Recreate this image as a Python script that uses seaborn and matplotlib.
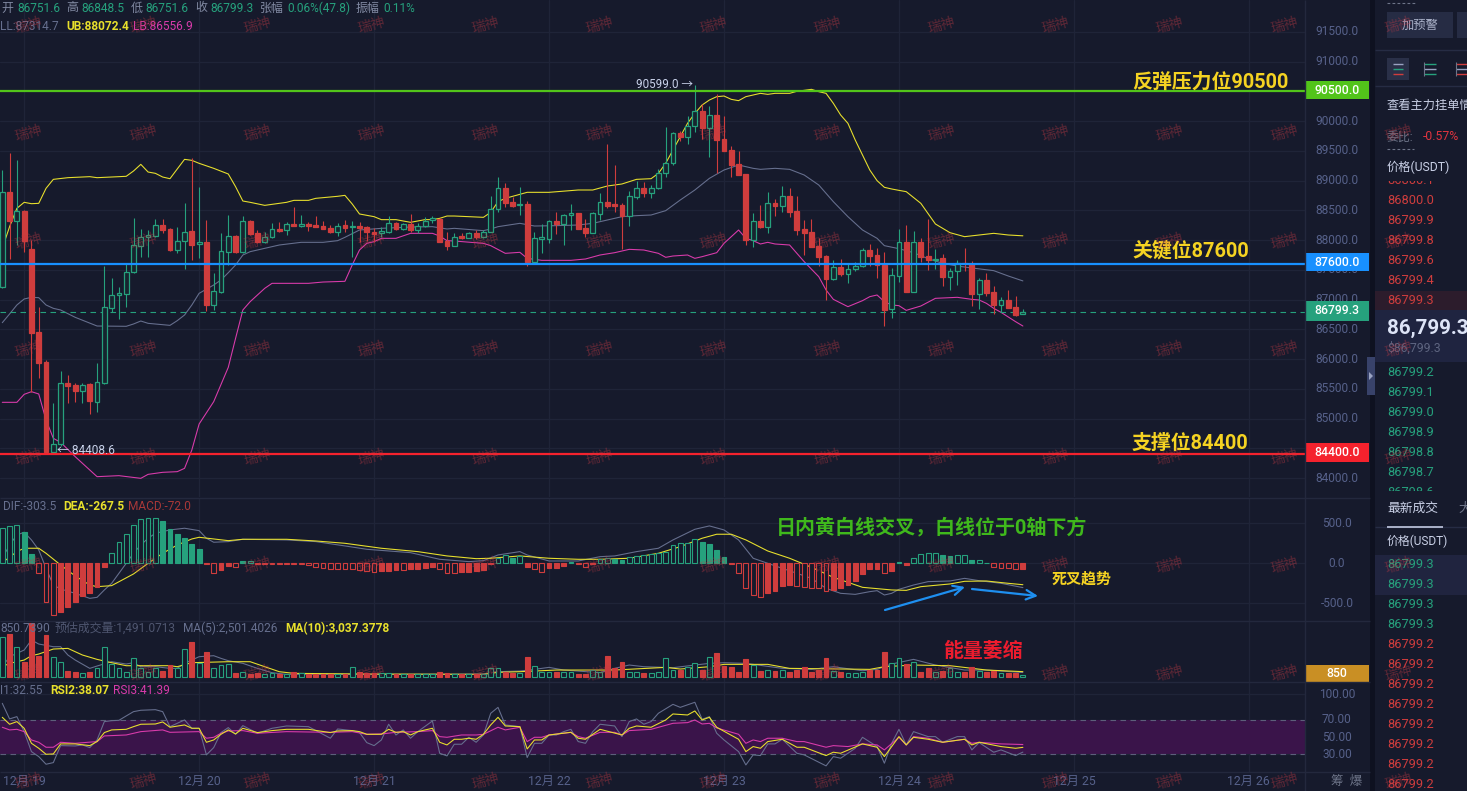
#!/usr/bin/env python3
"""BTC/USDT 1h candle chart with Bollinger, MACD, volume and RSI panes."""

import matplotlib
matplotlib.use("Agg")
import matplotlib.pyplot as plt
import numpy as np
import seaborn as sns
from matplotlib.patches import Rectangle, Polygon
from matplotlib.transforms import ScaledTranslation

# ---------------------------------------------------------------- candles
OPENS = [
    87217, 88808, 88326, 88489, 87846, 86456, 85952, 84445, 84570, 85595,
    85566, 85465, 85578, 85286, 85605, 86865, 87073, 87100, 87459, 87906,
    88057, 88074, 88254, 88187, 87834, 87980, 88153, 87930, 87973, 86910,
    87133, 87805, 88074, 87805, 88321, 88115, 87973, 88047, 88187, 88165,
    88266, 88242, 88266, 88254, 88232, 88204, 88141, 88254, 88215, 88237,
    88215, 88141, 88115, 88141, 88283, 88182, 88271, 88170, 88237, 88338,
    88360, 87985, 87906, 88069, 88041, 88115, 88057, 88141, 88518, 88870,
    88640, 88585, 88602, 87637, 88024, 88024, 88321, 88271, 88417, 88451,
    88204, 88125, 88444, 88635, 88607, 88585, 88405, 88729, 88870, 88797,
    88870, 89133, 89301, 89795, 89737, 89917, 90174, 89889, 90097, 89694,
    89514, 89279, 89106, 87994, 88321, 88225, 88624, 88578, 88736, 88489,
    88187, 88136, 87901, 87733, 87347, 87543, 87436, 87510, 87570, 87829,
    87750, 87582, 86838, 87402, 87968, 87133, 87968, 87733, 87666, 87695,
    87385, 87476, 87621, 87594, 87100, 87330, 87128, 86915, 86994, 86876,
    86751.6,
]
HIGHS = [
    89178, 89464, 89346, 88506, 87998, 86876, 85993, 85264, 85806, 85734,
    85605, 85600, 85595, 85936, 87565, 87369, 87212, 87616, 88372, 88187,
    88170, 88355, 88355, 88204, 88225, 88619, 89380, 88897, 88338, 87453,
    88120, 88422, 88086, 88405, 88338, 88170, 88141, 88293, 88310, 88310,
    88561, 88422, 88310, 88405, 88321, 88254, 88283, 88338, 88326, 88310,
    88237, 88199, 88225, 88405, 88310, 88293, 88439, 88293, 88393, 88410,
    88366, 88131, 88125, 88125, 88141, 88170, 88170, 88741, 89055, 88955,
    88719, 88897, 88662, 88131, 88266, 88338, 88467, 88434, 88607, 88461,
    88350, 88467, 88797, 89615, 89262, 88629, 88830, 88993, 88981, 88926,
    89190, 89895, 89821, 89833, 90085, 90599, 90287, 90253, 90455, 90090,
    89581, 89497, 89111, 88451, 88590, 88813, 88686, 88914, 88870, 88741,
    88338, 88350, 88031, 87750, 87666, 87678, 87599, 87637, 87863, 87935,
    87863, 87805, 87526, 88182, 88254, 88158, 88031, 88355, 87846, 87767,
    87526, 87666, 87863, 87649, 87359, 87443, 87234, 87039, 87162, 87061,
    86848.5,
]
LOWS = [
    87196, 87683, 87918, 87800, 85453, 85684, 84432, 84408.6, 84546, 85264,
    85280, 85269, 85079, 85108, 85583, 86798, 86675, 86881, 87448, 87711,
    87721, 88057, 88115, 87822, 87779, 87515, 87666, 87700, 86809, 86826,
    87112, 87582, 87792, 87792, 88091, 87946, 87946, 88030, 88141, 88086,
    88237, 88225, 88158, 88225, 88187, 88115, 88074, 88141, 87711, 87973,
    87990, 87973, 88057, 88115, 88170, 88170, 88141, 88115, 88225, 88283,
    87973, 87834, 87901, 88014, 88030, 88014, 88036, 88131, 88477, 88551,
    88551, 88422, 87565, 87594, 87779, 87946, 88103, 87918, 88170, 88192,
    88057, 88115, 88338, 88535, 88467, 87851, 88242, 88686, 88729, 88703,
    88859, 89065, 89262, 89670, 89615, 89821, 89694, 89401, 89122, 89497,
    89065, 89094, 87918, 87890, 88199, 88115, 88405, 88477, 88393, 88086,
    87750, 87885, 87565, 86994, 87330, 87402, 87275, 87486, 87543, 87565,
    87358, 86557, 86686, 87301, 87133, 87133, 87637, 87498, 87515, 87229,
    87162, 87246, 87486, 86893, 86838, 87061, 86754, 86787, 86855, 86730,
    86751.6,
]
CLOSES = [
    88803, 88326, 88489, 87990, 86445, 85941, 84445, 84570, 85595, 85554,
    85465, 85571, 85297, 85611, 86871, 87073, 87107, 87459, 87918, 88057,
    88081, 88249, 88170, 87834, 87980, 88141, 87918, 87963, 86910, 87145,
    87822, 88064, 87795, 88321, 88103, 87973, 88052, 88182, 88158, 88266,
    88242, 88271, 88242, 88225, 88192, 88141, 88242, 88209, 88232, 88209,
    88141, 88103, 88153, 88283, 88182, 88266, 88170, 88237, 88326, 88366,
    87973, 87901, 88047, 88041, 88115, 88057, 88141, 88518, 88870, 88629,
    88578, 88607, 87637, 88030, 88047, 88316, 88271, 88417, 88451, 88192,
    88125, 88451, 88635, 88578, 88578, 88405, 88736, 88870, 88797, 88870,
    89133, 89301, 89795, 89737, 89912, 90174, 89889, 90097, 89687, 89502,
    89267, 89094, 87994, 88316, 88215, 88618, 88573, 88736, 88477, 88175,
    88125, 87890, 87721, 87347, 87543, 87431, 87510, 87570, 87829, 87738,
    87582, 86826, 87409, 87963, 87133, 87968, 87716, 87666, 87688, 87385,
    87476, 87610, 87610, 87095, 87325, 87112, 86910, 86989, 86855, 86742,
    86799.3,
]

# ---------------------------------------------------------------- Bollinger
UB_IDX = [0, 1, 2, 3, 4, 5, 6, 7, 9, 12, 13, 16, 17, 18, 19, 20, 21, 22, 23, 24, 25, 26, 27, 29, 31, 32, 33, 34, 36,
          39, 40, 42, 43, 46, 47, 48, 49, 51, 52, 54, 56, 58, 59, 60, 61, 62, 66, 67, 68, 69, 72, 75, 79, 81, 83,
          85, 87, 89, 90, 91, 92, 93, 94, 95, 96, 97, 98, 99, 100, 101, 102, 104, 105, 106, 108, 109, 111, 112,
          113, 114, 115, 116, 117, 118, 119, 120, 121, 122, 123, 124, 126, 128, 130, 132, 134, 136, 138, 140]
UB_VAL = [87862, 88226, 88534, 88635, 88612, 88618, 88870, 89021, 89049, 89066, 89049, 89066, 89072, 89161, 89273,
          89144, 89122, 89060, 89032, 89195, 89357, 89340, 89290, 89206, 89111, 88898, 88657, 88635, 88584, 88635,
          88668, 88668, 88702, 88736, 88752, 88607, 88439, 88394, 88344, 88344, 88299, 88344, 88344, 88366, 88405,
          88405, 88383, 88467, 88646, 88702, 88803, 88803, 88842, 88842, 88909, 88943, 89021, 89032, 89122, 89290,
          89514, 89738, 89962, 90130, 90270, 90354, 90410, 90421, 90365, 90343, 90410, 90466, 90449, 90466, 90466,
          90500, 90533, 90494, 90466, 90298, 90102, 89962, 89682, 89430, 89178, 88999, 88887, 88859, 88836, 88814,
          88618, 88271, 88125, 88058, 88086, 88114, 88086, 88072.4]
MID_IDX = [0, 1, 2, 3, 4, 5, 6, 7, 8, 10, 13, 17, 18, 19, 20, 23, 24, 25, 26, 27, 29, 30, 31, 32, 33, 34, 35, 36, 38,
           41, 44, 46, 47, 49, 52, 56, 59, 61, 62, 66, 67, 68, 71, 73, 76, 79, 81, 83, 85, 87, 89, 91, 93, 95, 97,
           99, 101, 103, 104, 106, 108, 110, 112, 114, 116, 118, 120, 121, 123, 125, 127, 129, 131, 133, 136, 138, 140]
MID_VAL = [86613, 86759, 86910, 87011, 87039, 87033, 86910, 86854, 86826, 86703, 86557, 86552, 86591, 86641, 86602,
           86568, 86647, 86742, 86910, 87106, 87246, 87330, 87453, 87582, 87750, 87806, 87834, 87862, 87918, 87963,
           87963, 87991, 88047, 88170, 88198, 88220, 88226, 88187, 88198, 88159, 88187, 88226, 88282, 88237, 88243,
           88254, 88282, 88338, 88394, 88411, 88422, 88495, 88674, 88842, 89038, 89178, 89262, 89206, 89189, 89206,
           89189, 89094, 88926, 88646, 88394, 88170, 88030, 87907, 87856, 87789, 87688, 87610, 87565, 87532, 87487,
           87397, 87314.7]
LB_IDX = [0, 2, 3, 4, 5, 6, 7, 8, 10, 13, 16, 19, 20, 22, 24, 25, 26, 27, 29, 31, 32, 33, 34, 36, 37, 42, 44, 47, 48,
          49, 50, 51, 52, 54, 56, 59, 60, 61, 62, 66, 67, 69, 71, 72, 74, 78, 80, 82, 84, 86, 88, 90, 91, 92, 94,
          95, 96, 98, 99, 101, 102, 103, 104, 105, 106, 108, 110, 112, 113, 114, 116, 118, 119, 120, 121, 122,
          123, 124, 126, 128, 131, 133, 134, 135, 136, 137, 139, 140]
LB_VAL = [85275, 85275, 85409, 85454, 85415, 84978, 84670, 84603, 84362, 84026, 84043, 83998, 84065, 84099, 84110,
          84166, 84474, 84911, 85286, 85863, 86350, 86826, 86966, 87190, 87274, 87274, 87296, 87308, 87582, 87834,
          87946, 87974, 88030, 88030, 88114, 88114, 88069, 87991, 87985, 87946, 87907, 87778, 87795, 87694, 87660,
          87660, 87683, 87750, 87789, 87845, 87834, 87778, 87711, 87733, 87750, 87694, 87722, 87789, 87946, 88170,
          88030, 87991, 87935, 87963, 87935, 87918, 87638, 87386, 87162, 87005, 86882, 86983, 87050, 87078, 86966,
          86910, 86899, 86820, 86893, 87022, 87039, 87005, 86994, 86938, 86854, 86787, 86630, 86556.9]

# ---------------------------------------------------------------- MACD
MACD_HIST = [
    438, 467, 479, 388, 117, -125, -479, -650, -604, -542,
    -479, -408, -367, -292, -50, 133, 263, 363, 479, 550,
    563, 563, 529, 429, 367, 321, 242, 179, -8, -117,
    -83, -33, -46, 25, 25, -10, -10, -10, -10, -10,
    -10, -10, -17, -50, -54, -67, -71, -75, -75, -83,
    -96, -104, -100, -96, -83, -83, -75, -71, -58, -50,
    -75, -117, -117, -108, -104, -92, -83, -10, 63, 104,
    63, 85, -50, -75, -104, -63, -54, -33, 13, -8,
    -42, -8, 54, 63, 50, 42, 75, 92, 100, 113,
    125, 146, 229, 250, 258, 300, 271, 242, 167, 79,
    -8, -117, -313, -396, -425, -375, -342, -283, -271, -283,
    -292, -304, -313, -346, -333, -313, -271, -217, -138, -75,
    -71, -125, -96, 21, -17, 71, 117, 125, 125, 104,
    92, 100, 100, 38, 38, 8, -42, -54, -63, -75,
    -72,
]
DIF_IDX = [0, 1, 2, 3, 4, 5, 6, 7, 8, 10, 12, 13, 14, 15, 16, 18, 19, 20, 21, 23, 25, 27, 28, 29, 31, 33, 39, 43, 47,
           50, 56, 60, 64, 66, 68, 71, 72, 75, 79, 82, 84, 87, 90, 92, 95, 97, 99, 101, 103, 105, 107, 109, 111,
           113, 115, 117, 119, 120, 121, 122, 123, 125, 127, 130, 132, 134, 137, 140]
DIF_VAL = [63, 229, 354, 388, 292, 167, -63, -271, -321, -375, -438, -425, -333, -250, -125, 125, 229, 313, 375, 417,
           438, 408, 313, 263, 271, 300, 292, 271, 217, 175, 133, 50, 21, 33, 104, 146, 104, 29, 29, 83, 92, 146,
           188, 292, 425, 467, 417, 292, 63, 0, -63, -125, -188, -313, -375, -388, -354, -342, -396, -375, -325,
           -271, -229, -221, -188, -217, -250, -303.5]
DEA_IDX = [0, 2, 3, 5, 6, 8, 10, 12, 13, 15, 18, 20, 22, 24, 26, 27, 29, 31, 33, 39, 43, 47, 52, 57, 61, 65, 67, 71,
           75, 79, 82, 86, 90, 93, 96, 98, 100, 102, 105, 108, 111, 114, 118, 122, 124, 126, 130, 132, 135, 138, 140]
DEA_VAL = [8, 146, 188, 188, 125, -21, -158, -271, -292, -279, -133, 0, 125, 229, 304, 325, 304, 283, 300, 300, 279,
           250, 188, 146, 92, 58, 63, 92, 63, 50, 50, 63, 125, 208, 313, 363, 363, 292, 154, 63, -50, -175, -300,
           -333, -338, -292, -258, -225, -221, -250, -267.5]

# ---------------------------------------------------------------- volume
VOLUME = [
    24000, 25600, 17600, 9000, 32000, 12600, 25000, 11600, 9000, 3400,
    2800, 2000, 3000, 5400, 18000, 7600, 5000, 3000, 11000, 5000,
    3000, 5000, 3400, 7000, 5000, 16400, 20600, 8000, 14600, 5000,
    7000, 7600, 2200, 2800, 1800, 2400, 1600, 2400, 1400, 1400,
    3000, 2000, 1400, 1400, 1400, 1400, 1400, 1400, 6000, 2600,
    2000, 2000, 2400, 2000, 1800, 1400, 1400, 1400, 1400, 1400,
    2600, 2200, 1400, 1400, 1400, 1400, 1600, 5000, 5400, 2600,
    2200, 2000, 12000, 6400, 3000, 3000, 3000, 3000, 3000, 1400,
    1600, 4000, 3000, 12400, 5400, 8600, 3000, 3000, 2000, 2000,
    2600, 11000, 4000, 4000, 6000, 8400, 4000, 12000, 14000, 6400,
    5600, 3000, 10400, 7000, 3400, 4000, 3400, 4000, 3000, 4000,
    5600, 3000, 4000, 11000, 3400, 3000, 2000, 2000, 3000, 4000,
    4000, 14600, 8400, 11000, 7600, 8600, 3000, 5400, 2600, 3400,
    5000, 3000, 3000, 5600, 3400, 2600, 3400, 2400, 2000, 2400,
    850,
]
MA5_IDX = [0, 1, 3, 4, 5, 7, 8, 9, 10, 12, 13, 15, 17, 18, 19, 21, 23, 24, 25, 27, 29, 30, 31, 33, 35, 37, 39, 50, 66,
           68, 71, 73, 75, 77, 82, 84, 86, 88, 92, 95, 97, 99, 102, 107, 111, 114, 118, 120, 122, 125, 128, 132,
           135, 140]
MA5_VAL = [6000, 12000, 16000, 22000, 19600, 18000, 18000, 13000, 10000, 5000, 6400, 9000, 7600, 8400, 6000, 6000,
           5000, 5000, 8000, 12000, 12600, 11000, 9600, 8000, 5000, 2400, 1400, 1400, 1600, 3000, 3400, 4400, 5600,
           4000, 2400, 5000, 7000, 6000, 5400, 7000, 8000, 8400, 8000, 5000, 4400, 6000, 3600, 4400, 7600, 10400,
           7000, 4000, 4000, 2501.4]
MA10_IDX = [0, 1, 3, 4, 5, 7, 9, 11, 13, 15, 17, 21, 23, 24, 26, 31, 34, 36, 38, 40, 50, 66, 68, 71, 76, 84, 91, 93,
            97, 99, 105, 108, 119, 121, 125, 130, 135, 140]
MA10_VAL = [6000, 8000, 10000, 12600, 13600, 16600, 17000, 13000, 10400, 8400, 6600, 6600, 6600, 6000, 8400, 9000,
            9000, 6000, 3000, 2000, 1600, 1400, 2600, 3000, 4000, 4000, 5600, 4600, 6000, 7400, 7400, 5000, 4400,
            6000, 7000, 6600, 4000, 3037.4]

# ---------------------------------------------------------------- RSI
RSI1_IDX = [0, 1, 2, 3, 4, 5, 6, 7, 8, 10, 11, 12, 13, 14, 15, 16, 17, 18, 19, 21, 22, 23, 25, 26, 27, 28, 29, 30, 31,
            32, 33, 35, 37, 39, 42, 45, 46, 48, 49, 50, 51, 52, 53, 54, 55, 56, 57, 59, 60, 61, 62, 63, 64, 65, 66,
            67, 68, 69,
            71, 72, 73, 74, 75, 76, 77, 78, 79, 80, 81, 82, 84, 85, 86, 87, 88, 89, 90, 92, 93, 95, 96, 97, 98, 99,
            101, 102, 103, 104, 105, 106, 107, 109, 110, 113, 114, 115, 117, 118, 120, 121, 122, 123, 124, 125,
            127, 128, 129, 131, 132, 133, 134, 136, 137, 139, 140]
RSI1_VAL = [89.4, 71.2, 73.9, 56.4, 33.1, 27.3, 18.4, 20.3, 40.1, 39.7, 40.9, 37.8, 46.7, 68.1, 69.2, 69.6, 74.7,
            79.7, 81.3, 82, 79.7, 62.2, 70, 60.3, 60.3, 29.3, 37.8, 55.3, 61.1, 53.3, 63.4, 54.5, 60.3, 63, 62.2,
            48.7, 59.5, 57.6, 55.3, 43.6, 40.1, 46.7, 65, 52.5, 58.4, 48.7, 56.4, 68.8, 31.2, 28.1, 41.7, 41.7,
            49.8, 44, 52.5, 77.8, 84.7, 64.2,
            62.2, 26.2, 42.8, 42.8, 52.5, 52.5, 56.4, 59.1, 44.8, 42.8, 56.4, 65, 63, 50.6, 68.1, 71.2, 65, 68.1,
            77.8, 88.2, 84.7, 90.6, 70.8, 73.9, 54.5, 46.7, 33.1, 17.6, 29.3, 28.5, 42.1, 42.1, 47.5, 31.2, 29.3,
            16.5, 27.3, 25.4, 37, 49.8, 39, 19.6, 42.8, 59.1, 40.9, 56.4, 50.6, 50.6, 44, 50.6, 50.6, 35.1, 43.6,
            32.4, 35.1, 28.5, 32.55]
RSI2_IDX = [0, 1, 2, 3, 4, 5, 6, 7, 8, 10, 12, 13, 14, 15, 17, 18, 19, 21, 22, 23, 25, 26, 27, 28, 29, 30, 31, 32, 33,
            35, 37, 39, 42, 45, 46, 48, 49, 50, 52, 53, 54, 55, 56, 57, 59, 60, 61, 62, 63, 64, 65, 66, 67, 68, 69,
            71, 72, 73, 74, 75, 78, 79, 80, 82, 85, 86, 87, 89, 91, 92, 94, 95, 96, 97, 98, 101, 102, 103, 104,
            105, 107, 109, 110, 113, 114, 115, 118, 120, 121, 123, 124, 125, 127, 129, 132, 133, 134, 137, 139, 140]
RSI2_VAL = [73.1, 65, 68.1, 60.3, 42.8, 37, 30, 30.4, 42.1, 42.1, 40.1, 44.8, 55.3, 58.4, 59.1, 62.2, 65, 65.3, 67.7,
            61.5, 64.2, 60.3, 60.3, 44, 46.7, 53.3, 58.4, 53.7, 60.3, 55.3, 57.6, 59.1, 59.1, 55.3, 57.2, 57.6, 56.4,
            53.3, 53.3, 59.1, 55.6, 56.4, 52.5, 56.4, 60.3, 44, 40.9, 47.5, 47.5, 48.7, 47.5, 53.3, 64.2, 73.1, 63,
            62.2, 36.2, 46.7, 46.7, 52.5, 55.6, 48.7, 47.5, 59.1, 52.5, 60.3, 63, 61.5, 70, 77, 75.8, 80.5, 70, 73.1,
            61.5, 47.5, 33.1, 39, 37, 44.8, 47.5, 38.2, 38.2, 28.5, 32.4, 31.2, 42.1, 38.2, 27.3, 50.6, 40.9, 49.8,
            47.5, 44, 47.5, 40.9, 44, 39, 37, 38.07]
RSI3_IDX = [0, 1, 2, 3, 4, 5, 6, 7, 8, 10, 13, 14, 17, 19, 22, 23, 27, 28, 29, 30, 31, 33, 35, 39, 45, 48, 50, 52, 54,
            57, 59, 60, 61, 63, 65, 66, 68, 69,
            71, 72, 73, 74, 75, 78, 79, 80, 82, 84, 85, 86, 89, 92, 94, 95, 96, 97, 98, 101, 102, 103, 104, 105,
            107, 109, 110, 113, 114, 116, 118, 120, 121, 123, 124, 125, 127, 129, 132, 133, 134, 137, 140]
RSI3_VAL = [61.5, 58.4, 59.1, 56.4, 46.7, 44, 38.2, 38.2, 44, 42.8, 44.8, 51.4, 52.5, 56.4, 58.4, 55.6, 56.4, 48.7,
            49.8, 54.5, 57.2, 57.6, 54.5, 56.4, 55.6, 56.4, 53.3, 53.7, 55.6, 56.4, 57.6, 50.6, 49.8, 52.5, 52.5,
            53.3, 61.5, 58.4,
            61.5, 44.8, 49.8, 49.8, 52.5, 55.6, 50.6, 48.7, 55.6, 55.6, 52.5, 57.6, 59.1, 66.1, 66.9, 70, 65.3, 66.1,
            60.7, 53.3, 42.8, 46.7, 44.8, 48.7, 48.7, 44.8, 44.8, 38.2, 40.1, 39, 42.1, 40.9, 35.1, 49.8, 40.9, 50.6,
            48.7, 44, 47.5, 42.8, 44, 42.1, 41.39]

# ---------------------------------------------------------------- labels
DAY_TICKS = [3, 27, 51, 75, 99, 123, 147, 171]
DAY_LABELS = ["12月 19", "12月 20", "12月 21", "12月 22", "12月 23", "12月 24", "12月 25", "12月 26"]
PRICE_TICKS = [84000, 84500, 85000, 85500, 86000, 86500, 87000, 87500, 88000, 88500, 89000, 89500, 90000, 90500,
               91000, 91500]
MACD_TICKS = [-500, 0, 500]
RSI_TICKS = [30, 50, 70, 100]
LEVELS = [90500, 87600, 84400]
ASKS = ["86800.1", "86800.0", "86799.9", "86799.8", "86799.6", "86799.4", "86799.3"]
BIDS = ["86799.2", "86799.1", "86799.0", "86798.9", "86798.8", "86798.7", "86798.6"]
TRADES_UP = ["86799.3", "86799.3", "86799.3", "86799.3"]
TRADES_DOWN = ["86799.2"] * 8

# ---------------------------------------------------------------- style
W, H = 1467, 791
BG = "#161a2c"
GRID = "#1f2438"
RED = "#cf3d3d"
GREEN = "#26a17d"
HOLLOW = "#17242f"
YELLOW = "#e8e02c"
GRAY = "#666f8e"
PINK = "#d93bab"
AXIS_TEXT = "#56618a"
LEVEL_COLORS = ["#52c41a", "#1890ff", "#f5222d"]
X_LEFT, X_RIGHT = -0.315, 178.7


def px_axes(fig, top, bottom):
    """Chart pane spanning the candle area, given top/bottom in pixels."""
    ax = fig.add_axes([0, 1 - bottom / H, 1305 / W, (bottom - top) / H])
    ax.set_facecolor(BG)
    ax.set_xlim(X_LEFT, X_RIGHT)
    ax.set_xticks(DAY_TICKS)
    ax.set_xticklabels([])
    ax.grid(True, color=GRID, linewidth=0.9)
    ax.set_axisbelow(True)
    ax.tick_params(axis="x", length=0)
    ax.yaxis.tick_right()
    ax.tick_params(axis="y", length=0, labelcolor=AXIS_TEXT, labelsize=8.6, pad=23)
    for side in ax.spines:
        ax.spines[side].set_visible(False)
    return ax


def yticks(ax, ticks, fmt):
    ax.set_yticks(ticks)
    ax.set_yticklabels([fmt.format(t) for t in ticks], ha="center")
    nudge = ScaledTranslation(0, 1.5 / 100, ax.figure.dpi_scale_trans)
    for tick_label in ax.get_yticklabels():
        tick_label.set_transform(tick_label.get_transform() + nudge)


def line(ax, idx, val, color, lw=0.78):
    sns.lineplot(x=idx, y=val, ax=ax, color=color, linewidth=lw, errorbar=None, legend=False)
    ax.set_xlabel("")
    ax.set_ylabel("")


def draw_candles(ax):
    x = np.arange(len(CLOSES))
    opens, closes = np.array(OPENS), np.array(CLOSES)
    up = closes >= opens
    colors = np.where(up, GREEN, RED)
    ax.vlines(x, LOWS, HIGHS, colors=colors, linewidth=0.8, zorder=3)
    bottoms = np.minimum(opens, closes)
    heights = np.maximum(np.abs(closes - opens), 12)
    ax.bar(x, heights, bottom=bottoms, width=0.66, color=np.where(up, HOLLOW, RED),
           edgecolor=colors, linewidth=0.9, zorder=4)


def draw_macd(ax):
    x = np.arange(len(MACD_HIST))
    hist = np.array(MACD_HIST)
    growing = np.abs(hist) >= np.abs(np.roll(hist, 1))
    colors = np.where(hist >= 0, GREEN, RED)
    faces = [BG if g else c for g, c in zip(growing, colors)]
    ax.bar(x, hist, width=0.66, color=faces, edgecolor=colors, linewidth=0.8, zorder=3)
    line(ax, DIF_IDX, DIF_VAL, GRAY)
    line(ax, DEA_IDX, DEA_VAL, YELLOW)


def draw_volume(ax):
    x = np.arange(len(VOLUME))
    up = np.array(CLOSES) >= np.array(OPENS)
    colors = np.where(up, GREEN, RED)
    ax.bar(x, VOLUME, width=0.66, color=np.where(up, BG, RED), edgecolor=colors, linewidth=0.8, zorder=3)
    line(ax, MA5_IDX, MA5_VAL, GRAY)
    line(ax, MA10_IDX, MA10_VAL, YELLOW)


def draw_rsi(ax):
    ax.axhspan(30, 70, color="#3a144a", zorder=1, linewidth=0)
    for level in (30, 70):
        ax.axhline(level, color="#5c5f7a", linewidth=0.8, linestyle=(0, (5, 4)), zorder=2)
    line(ax, RSI1_IDX, RSI1_VAL, GRAY)
    line(ax, RSI3_IDX, RSI3_VAL, PINK)
    line(ax, RSI2_IDX, RSI2_VAL, YELLOW)


def draw_header(ui):
    def put(x, y, s, color, size=8.6, weight="normal", **kw):
        ui.text(x, y, s, color=color, fontsize=size, fontweight=weight, va="center", **kw)

    label = "#828aa3"
    for x, s in [(1, "开"), (66, "高"), (131, "低"), (195, "收"), (260, "张幅"), (356, "振幅")]:
        put(x, 8, s, label)
    for x, s in [(17, "86751.6"), (81, "86848.5"), (145, "86751.6"), (210, "86799.3"),
                 (287, "0.06%(47.8)"), (383, "0.11%")]:
        put(x, 8, s, GREEN)
    put(0, 26, "LL:87314.7", GRAY)
    put(66, 26, "UB:88072.4", YELLOW, weight="bold")
    put(133, 26, "LB:86556.9", PINK)

    put(3, 507, "DIF:-303.5", GRAY)
    put(63, 507, "DEA:-267.5", YELLOW, weight="bold")
    put(128, 507, "MACD:-72.0", "#a83838")

    put(0, 628.5, "850.7390", GRAY)
    put(55, 628.5, "预估成交量:1,491.0713", "#4f5670")
    put(183, 628.5, "MA(5):2,501.4026", GRAY)
    put(285, 628.5, "MA(10):3,037.3778", YELLOW, weight="bold")

    put(0, 690.5, "I1:32.55", GRAY)
    put(50, 690.5, "RSI2:38.07", YELLOW, weight="bold")
    put(113, 690.5, "RSI3:41.39", PINK)

    put(1331, 782, "筹  爆", "#6d7488", size=9)


def draw_notes(ui):
    ui.text(1132, 82, "反弹压力位90500", color="#f5d322", fontsize=14.35, fontweight="bold", va="center")
    ui.text(1132, 251, "关键位87600", color="#f5d322", fontsize=14.35, fontweight="bold", va="center")
    ui.text(1132, 443, "支撑位84400", color="#f5d322", fontsize=14.35, fontweight="bold", va="center")
    ui.text(776, 528, "日内黄白线交叉，白线位于0轴下方", color="#3fb81c", fontsize=14.45, fontweight="bold", va="center")
    ui.text(1052, 579, "死叉趋势", color="#f5d322", fontsize=10.8, fontweight="bold", va="center")
    ui.text(943, 651, "能量萎缩", color="#ed1c2e", fontsize=14.3, fontweight="bold", va="center")
    ui.text(636, 84, "90599.0 →", color="#c9d2ea", fontsize=8.4, va="center")
    ui.text(57, 451, "← 84408.6", color="#c9d2ea", fontsize=8.6, va="center")
    for start, end in [((885, 610), (965, 587)), ((972, 589), (1038, 596))]:
        ui.annotate("", xy=end, xytext=start,
                    arrowprops=dict(arrowstyle="->", color="#1e8ff0", lw=1.6, mutation_scale=17,
                                    shrinkA=0, shrinkB=0))


def draw_level_boxes(ui):
    boxes = [(81, 99, LEVEL_COLORS[0], "90500.0"), (253, 271, LEVEL_COLORS[1], "87600.0"),
             (301, 321, GREEN, "86799.3"), (443, 462, LEVEL_COLORS[2], "84400.0"),
             (665, 682, "#c98f24", "850")]
    for top, bottom, color, s in boxes:
        ui.add_patch(Rectangle((1305, top), 64, bottom - top, color=color, linewidth=0))
        ui.text(1337, (top + bottom) / 2, s, color="white", fontsize=8.8, ha="center", va="center",
                fontweight="medium")


def draw_side_panel(ui):
    ui.add_patch(Rectangle((1370, 0), 5, H, color="#0e1120", linewidth=0))
    ui.add_patch(Rectangle((1367, 357), 8, 38, color="#38426a", linewidth=0))
    ui.add_patch(Polygon([(1369, 372), (1373, 376), (1369, 380)], color="#9aa3c2", linewidth=0))
    ui.hlines([50, 86, 527], 1375, W, color="#262c44", linewidth=1)
    ui.hlines(527, 1387, 1443, color="#c3cae2", linewidth=1.2)
    ui.hlines([3, 149], 1387, [1417, 1414], color="#6d7488", linewidth=0.8, linestyle=(0, (2.5, 2)))

    ui.add_patch(Rectangle((1387, 12), 66, 26, color="#262c44", linewidth=0))
    ui.add_patch(Rectangle((1457, 12), 12, 26, color="#262c44", linewidth=0))
    ui.text(1420, 25.5, "加预警", color="#aab1c8", fontsize=8.8, ha="center", va="center")
    ui.add_patch(Rectangle((1387, 58), 22, 22, color="#2a3048", linewidth=0))
    ui.hlines([64, 69, 74], 1393, 1403, color=["#9aa3c2", "#26a17d", "#cf3d3d"], linewidth=1)
    ui.hlines([64, 69, 74], 1424, 1436, color=["#26a17d", "#9aa3c2", "#26a17d"], linewidth=1)
    ui.hlines([64, 69, 74], 1456, 1467, color=["#cf3d3d", "#9aa3c2", "#cf3d3d"], linewidth=1)
    ui.vlines([1424, 1456], 62, 76, color="#6d7488", linewidth=0.8)

    ui.text(1387, 105, "查看主力挂单情", color="#c9d0e6", fontsize=8.8, fontweight="medium", va="center", clip_on=True)
    ui.text(1387, 137, "委比:", color="#6d7488", fontsize=8.6, va="center")
    ui.text(1423, 137, "-0.57%", color="#e0343f", fontsize=8.8, va="center")
    ui.text(1387, 167, "价格(USDT)", color="#c9d0e6", fontsize=8.8, va="center")

    ui.add_patch(Rectangle((1375, 291), 92, 19, color="#2c1c2c", linewidth=0))
    ui.add_patch(Rectangle((1375, 310), 92, 52, color="#1f2440", linewidth=0))
    for i, s in enumerate(ASKS):
        ui.text(1387, 180 + 20 * i, s, color=RED, fontsize=9.2, va="center", zorder=3)
    ui.text(1387, 328, "86,799.3", color="#dde4f7", fontsize=14.8, fontweight="bold", va="center")
    ui.text(1387, 348, "$86,799.3", color="#5e6580", fontsize=8.8, va="center")
    for i, s in enumerate(BIDS):
        ui.text(1387, 372 + 20 * i, s, color=GREEN, fontsize=9.2, va="center", zorder=3)
    # order book rows are cut by the list edges
    ui.add_patch(Rectangle((1375, 174.5), 92, 6, color=BG, linewidth=0, zorder=4))
    ui.add_patch(Rectangle((1375, 490.5), 92, 10, color=BG, linewidth=0, zorder=4))

    ui.text(1387, 508, "最新成交", color="#c9d0e6", fontsize=9.2, fontweight="medium", va="center")
    ui.text(1458, 508, "大", color="#6d7488", fontsize=9.2, va="center", clip_on=True)
    ui.text(1387, 541, "价格(USDT)", color="#c9d0e6", fontsize=8.6, va="center")
    ui.add_patch(Rectangle((1375, 555), 92, 40, color="#20243f", linewidth=0))
    for i, s in enumerate(TRADES_UP):
        ui.text(1387, 565 + 20 * i, s, color=GREEN, fontsize=9.2, va="center")
    for i, s in enumerate(TRADES_DOWN):
        ui.text(1387, 645 + 20 * i, s, color=RED, fontsize=9.2, va="center")


def draw_watermarks(ui):
    for x in 29 + 114.1 * np.arange(13):
        for y in 26 + 108 * np.arange(8):
            ui.text(x, y, "瑞神", color="#c23a44", alpha=0.42, fontsize=10, rotation=15,
                    ha="center", va="center", clip_on=True, zorder=6)


def main():
    sns.set_theme(style="dark", rc={"axes.facecolor": BG, "figure.facecolor": BG})
    plt.rcParams["font.family"] = ["Roboto", "Noto Sans CJK SC", "DejaVu Sans"]

    fig = plt.figure(figsize=(W / 100, H / 100), dpi=100, facecolor=BG)

    price = px_axes(fig, 0, 497.5)
    price.set_ylim(83676, 92034)
    yticks(price, PRICE_TICKS, "{:.1f}")
    draw_candles(price)
    line(price, MID_IDX, MID_VAL, GRAY)
    line(price, LB_IDX, LB_VAL, PINK)
    line(price, UB_IDX, UB_VAL, YELLOW)
    for level, color in zip(LEVELS, LEVEL_COLORS):
        price.axhline(level, color=color, linewidth=1.6, zorder=6)
    price.axhline(CLOSES[-1], color=GREEN, linewidth=0.8, linestyle=(0, (5, 4)), zorder=2)

    macd = px_axes(fig, 497.5, 620.7)
    macd.set_ylim(-717, 822)
    yticks(macd, MACD_TICKS, "{:.1f}")
    draw_macd(macd)

    volume = px_axes(fig, 620.7, 681.7)
    volume.set_ylim(-3000, 33600)
    volume.set_yticks([])
    draw_volume(volume)

    rsi = px_axes(fig, 681.7, 771.7)
    rsi.set_ylim(9.7, 114.6)
    yticks(rsi, RSI_TICKS, "{:.2f}")
    draw_rsi(rsi)
    rsi.set_xticklabels(DAY_LABELS, color=AXIS_TEXT, fontsize=8.8)
    rsi.tick_params(axis="x", pad=2.5)

    # overlay in pixel coordinates for everything that is not data
    ui = fig.add_axes([0, 0, 1, 1], zorder=10)
    ui.set_xlim(0, W)
    ui.set_ylim(H, 0)
    ui.patch.set_alpha(0)
    ui.axis("off")
    ui.hlines([497.5, 620.7, 681.7, 771.7], 0, 1370, color="#23283d", linewidth=1)
    ui.vlines(1305, 0, H, color="#23283d", linewidth=1)

    draw_level_boxes(ui)
    draw_side_panel(ui)
    draw_header(ui)
    draw_notes(ui)
    draw_watermarks(ui)

    fig.savefig("out.png", dpi=100, facecolor=BG)
    plt.close(fig)


if __name__ == "__main__":
    main()
